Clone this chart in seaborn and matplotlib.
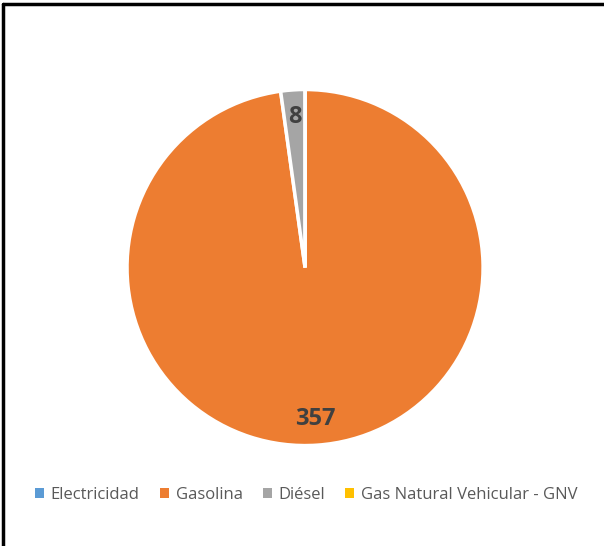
import matplotlib
matplotlib.use('Agg')
import matplotlib.pyplot as plt
import seaborn as sns
from matplotlib.lines import Line2D
from matplotlib.patches import Patch

# datos del gráfico
combustibles = ['Electricidad', 'Gasolina', 'Diésel', 'Gas Natural Vehicular - GNV']
vehiculos = [0, 357, 8, 0]
colores = ['#5B9BD5', '#ED7D31', '#A5A5A5', '#FFC000']

sns.set_theme(style='white')
plt.rcParams['font.family'] = ['Open Sans', 'DejaVu Sans']

fig = plt.figure(figsize=(6.04, 5.46), dpi=100)
ax = fig.add_axes([0.2103, 0.183, 0.5895, 0.654])

total = sum(vehiculos)


def etiqueta(pct):
    valor = int(round(pct * total / 100.0))
    return str(valor) if valor > 0 else ''


wedges, textos, autotextos = ax.pie(
    vehiculos, colors=colores, startangle=90, counterclock=False,
    autopct=etiqueta, pctdistance=0.85, radius=1,
    wedgeprops=dict(edgecolor='white', linewidth=2.5))
for t in autotextos:
    t.set_color('#404040')
    t.set_fontsize(17)
    t.set_fontweight('bold')
ax.set_xlim(-1, 1)
ax.set_ylim(-1, 1)
ax.set_aspect('equal')
ax.axis('off')

handles = [Patch(facecolor=c, edgecolor='none') for c in colores]
fig.legend(handles, combustibles, loc='center', bbox_to_anchor=(0.507, 0.093),
           ncol=4, frameon=False, fontsize=12, handlelength=0.55, handleheight=0.55,
           handletextpad=0.4, columnspacing=1.2, labelcolor='#595959')

# borde superior e izquierdo
fig.add_artist(Line2D([0.005, 1.0], [0.992, 0.992], color='black', lw=2.5,
                      transform=fig.transFigure))
fig.add_artist(Line2D([0.005, 0.005], [0.0, 0.992], color='black', lw=2.5,
                      transform=fig.transFigure))

fig.savefig('out.png', dpi=100)
